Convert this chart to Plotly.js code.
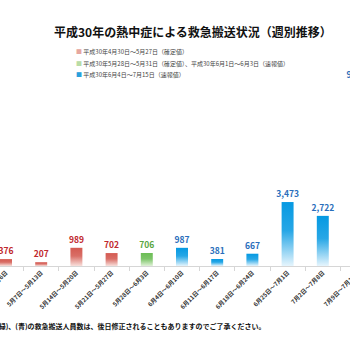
<!DOCTYPE html>
<html>
<head>
<meta charset="utf-8">
<script src="https://cdn.plot.ly/plotly-3.0.1.min.js"></script>
<style>
html,body{margin:0;padding:0;background:#fff;overflow:hidden;}
#wrap{position:relative;width:350px;height:350px;overflow:hidden;}
#chart{position:absolute;left:-10px;top:0;width:380px;height:350px;}
</style>
</head>
<body>
<div id="wrap"><div id="chart"></div></div>
<script>
const categories = ["4月30日～5月6日","5月7日～5月13日","5月14日～5月20日","5月21日～5月27日","5月28日～6月3日","6月4日～6月10日","6月11日～6月17日","6月18日～6月24日","6月25日～7月1日","7月2日～7月8日","7月9日～7月15日"];
const confirmedCats = categories.slice(0, 4);
const confirmedVals = [376, 207, 989, 702];
const mixedCats = categories.slice(4, 5);
const mixedVals = [706];
const prelimCats = categories.slice(5);
const prelimVals = [987, 381, 667, 3473, 2722, 9956];
const legendLabels = ["平成30年4月30日～5月27日（確定値）","平成30年5月28日～5月31日（確定値）、平成30年6月1日～6月3日（速報値）","平成30年6月4日～7月15日（速報値）"];
const titleText = "平成30年の熱中症による救急搬送状況（週別推移）";
const noteText = "※(緑)、(青)の救急搬送人員数は、後日修正されることもありますのでご了承ください。";

const FONT = '"Noto Sans CJK JP", "Noto Sans", sans-serif';
function barTrace(x, y, color, textColor) {
  return {
    type: 'bar', x: x, y: y,
    marker: {color: color, line: {width: 0}},
    texttemplate: '%{y:,}', textposition: 'outside',
    textfont: {family: FONT, size: 8.5, color: textColor, weight: 'bold'},
    constraintext: 'none', cliponaxis: false, showlegend: false, hoverinfo: 'skip'
  };
}
const data = [
  barTrace(confirmedCats, confirmedVals, '#d9685f', '#c0282d'),
  barTrace(mixedCats, mixedVals, '#79c463', '#5aa63f'),
  barTrace(prelimCats, prelimVals, '#0b9de4', '#2a6ebb')
];
const legendColors = ['#e6a79f', '#b9dca6', '#2aa0dc'];
const legendY = [0.972, 0.918, 0.868];
const annotations = legendLabels.map((t, i) => ({
  xref: 'paper', yref: 'paper', x: 0.221, y: legendY[i], xanchor: 'left', yanchor: 'middle',
  text: '<span style="color:' + legendColors[i] + '">■</span> ' + t, showarrow: false,
  font: {family: FONT, size: 6, color: '#444'}
}));
annotations.push({
  xref: 'paper', yref: 'paper', x: 0.732, y: -0.2715, xanchor: 'right', yanchor: 'middle',
  text: noteText, showarrow: false, font: {family: FONT, size: 7, color: '#111', weight: 'bold'}
});
const layout = {
  width: 380, height: 350,
  margin: {l: 0, r: 0, t: 45, b: 84},
  paper_bgcolor: '#fff', plot_bgcolor: '#fff',
  title: {text: titleText, x: 0.534, xanchor: 'center', y: 0.906, yanchor: 'middle', font: {family: FONT, size: 12, color: '#111', weight: 'bold'}},
  barmode: 'overlay', bargap: 0.66,
  xaxis: {type: 'category', categoryorder: 'array', categoryarray: categories, range: [-0.4545, 10.341],
    showline: true, linecolor: '#d6d6d6', linewidth: 1, ticks: 'outside', tickson: 'boundaries', ticklen: 4, tickcolor: '#d6d6d6',
    tickangle: -45, tickfont: {family: FONT, size: 6, color: '#333', weight: 'bold'}, showgrid: false, zeroline: false, fixedrange: true},
  yaxis: {range: [0, 12000], visible: false, showgrid: false, zeroline: false, fixedrange: true},
  annotations: annotations,
  font: {family: FONT}
};
Plotly.newPlot('chart', data, layout, {staticPlot: true, displayModeBar: false}).then(gd => {
  const svg = gd.querySelector('.main-svg');
  let defs = svg.querySelector('defs');
  if (!defs) { defs = document.createElementNS('http://www.w3.org/2000/svg', 'defs'); svg.insertBefore(defs, svg.firstChild); }
  function mix(a, b, t) {
    const pa = [1,3,5].map(i => parseInt(a.substr(i,2),16)), pb = [1,3,5].map(i => parseInt(b.substr(i,2),16));
    return 'rgb(' + pa.map((v,i) => Math.round(v + (pb[i]-v)*t)).join(',') + ')';
  }
  const grads = [['gRed', '#d45a51', '#f8e0dc'], ['gGreen', '#6cbd55', '#dff1d7'], ['gBlue', '#0599e2', '#e6f5fd']];
  grads.forEach(([id, top, bot]) => {
    const g = document.createElementNS('http://www.w3.org/2000/svg', 'linearGradient');
    g.setAttribute('id', id); g.setAttribute('x1', '0'); g.setAttribute('y1', '0'); g.setAttribute('x2', '0'); g.setAttribute('y2', '1');
    [['0', top], ['0.45', mix(top, bot, 0.15)], ['1', bot]].forEach(([o, c]) => {
      const s = document.createElementNS('http://www.w3.org/2000/svg', 'stop');
      s.setAttribute('offset', o); s.setAttribute('stop-color', c);
      g.appendChild(s);
    });
    defs.appendChild(g);
  });
  gd.querySelectorAll('.barlayer .trace').forEach((tr, i) => {
    tr.querySelectorAll('.point path').forEach(p => { p.style.fill = 'url(#' + grads[i][0] + ')'; });
  });
});
</script>
</body>
</html>
